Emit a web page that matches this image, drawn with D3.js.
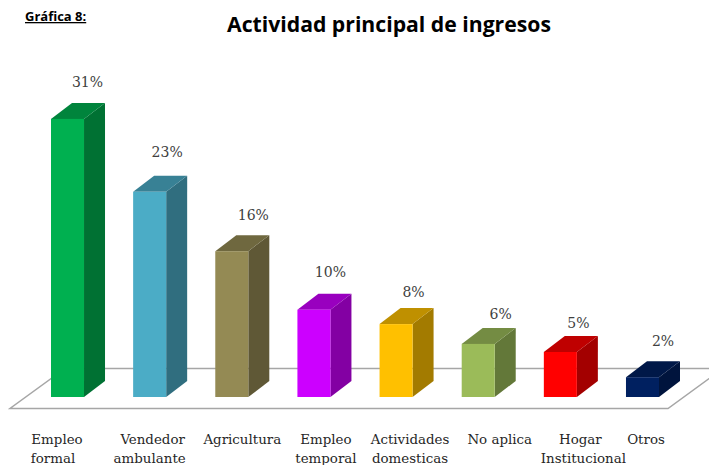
<!DOCTYPE html>
<html>
<head>
<meta charset="utf-8">
<script src="https://cdn.jsdelivr.net/npm/d3@7"></script>
<style>
  html, body { margin: 0; padding: 0; background: #fff; }
  svg { display: block; }
</style>
</head>
<body>
<svg id="drawspace" width="709" height="465"></svg>
<script>
// Data
const categories = ["Empleo formal", "Vendedor ambulante", "Agricultura", "Empleo temporal",
  "Actividades domesticas", "No aplica", "Hogar Institucional", "Otros"];
const categoryLines = [["Empleo", "formal"], ["Vendedor", "ambulante"], ["Agricultura"], ["Empleo", "temporal"],
  ["Actividades", "domesticas"], ["No aplica"], ["Hogar", "Institucional"], ["Otros"]];
const values = [30.9, 22.8, 16.2, 9.7, 8.1, 5.9, 5.0, 2.2];
const valueTicks = ["31%", "23%", "16%", "10%", "8%", "6%", "5%", "2%"];

// Colours of the front faces, sides and tops are darkened from these
const barColors = ["#00B050", "#4BACC6", "#948A54", "#CC00FF", "#FFC000", "#9BBB59", "#FF0000", "#002060"];

// Chart layout
const baseY = 397, plotTopY = 118;
const depthX = 21, depthY = 16;

let drawSpace = d3.select("#drawspace");

let xScale = d3.scaleBand().domain(categories).range([51, 659]).paddingInner(0.598).paddingOuter(0);
let yScale = d3.scaleLinear().domain([0, 31]).range([baseY, plotTopY]);

function shade(c, k) {
  let r = d3.rgb(c);
  return d3.rgb(r.r * k, r.g * k, r.b * k).formatHex();
}

// floor of the chart, clipped by the page on the right
let floor = d3.path();
floor.moveTo(10, 408.5);
floor.lineTo(668, 408.5);
floor.lineTo(668 + 55, 368.5);
floor.lineTo(10 + 55, 368.5);
floor.closePath();
drawSpace.append("path")
  .attr("d", floor.toString())
  .attr("fill", "none")
  .attr("stroke", "#a6a6a6")
  .attr("stroke-width", 1.5);

// one group per bar: side, top, then front face
let bars = drawSpace.selectAll("g.bar")
  .data(categories)
  .enter()
  .append("g")
  .attr("class", "bar");

function poly(pts) {
  let p = d3.path();
  pts.forEach((q, i) => (i ? p.lineTo(q[0], q[1]) : p.moveTo(q[0], q[1])));
  p.closePath();
  return p.toString();
}

bars.append("path")
  .attr("d", (d, i) => {
    let x1 = xScale(d) + xScale.bandwidth(), y0 = yScale(values[i]);
    return poly([[x1, y0], [x1 + depthX, y0 - depthY], [x1 + depthX, baseY - depthY], [x1, baseY]]);
  })
  .attr("fill", (d, i) => shade(barColors[i], 0.64));

bars.append("path")
  .attr("d", (d, i) => {
    let x0 = xScale(d), x1 = x0 + xScale.bandwidth(), y0 = yScale(values[i]);
    return poly([[x0, y0], [x0 + depthX, y0 - depthY], [x1 + depthX, y0 - depthY], [x1, y0]]);
  })
  .attr("fill", (d, i) => shade(barColors[i], 0.75));

bars.append("rect")
  .attr("x", (d) => xScale(d))
  .attr("y", (d, i) => yScale(values[i]))
  .attr("width", xScale.bandwidth())
  .attr("height", (d, i) => baseY - yScale(values[i]))
  .attr("fill", (d, i) => barColors[i]);

// value labels, nudged as in the picture
const valueDx = [20, 17.5, 21.5, 16.5, 17.5, 22.5, 18, 20.5];
const valueDy = [-32, -35, -31, -33, -27, -25, -24, -31];

drawSpace.selectAll("text.value")
  .data(categories)
  .enter()
  .append("text")
  .attr("class", "value")
  .attr("x", (d, i) => xScale(d) + xScale.bandwidth() / 2 + valueDx[i])
  .attr("y", (d, i) => yScale(values[i]) + valueDy[i])
  .attr("text-anchor", "middle")
  .attr("font-family", "DejaVu Serif")
  .attr("font-size", 14)
  .attr("fill", "#404040")
  .text((d, i) => valueTicks[i]);

// category labels, each line has its own offset from the bar centre
const labelDx = [[-10.5, -14.5], [3, 0], [10.5], [12, 12], [14, 14], [21.5], [20, 23], [3.5]];

categoryLines.forEach((lines, i) => {
  lines.forEach((line, j) => {
    drawSpace.append("text")
      .attr("x", xScale(categories[i]) + xScale.bandwidth() / 2 + labelDx[i][j])
      .attr("y", 444 + j * 19)
      .attr("text-anchor", "middle")
      .attr("font-family", "DejaVu Serif")
      .attr("font-size", 13.4)
      .attr("fill", "#262626")
      .text(line);
  });
});

// titles
drawSpace.append("text")
  .attr("x", 389)
  .attr("y", 32)
  .attr("text-anchor", "middle")
  .attr("font-family", "Open Sans")
  .attr("font-weight", 700)
  .attr("font-size", 21.2)
  .attr("fill", "#000")
  .text("Actividad principal de ingresos");

drawSpace.append("text")
  .attr("x", 25)
  .attr("y", 21)
  .attr("font-family", "Open Sans")
  .attr("font-weight", 700)
  .attr("font-size", 13)
  .attr("text-decoration", "underline")
  .attr("fill", "#000")
  .text("Gráfica 8:");
</script>
</body>
</html>
